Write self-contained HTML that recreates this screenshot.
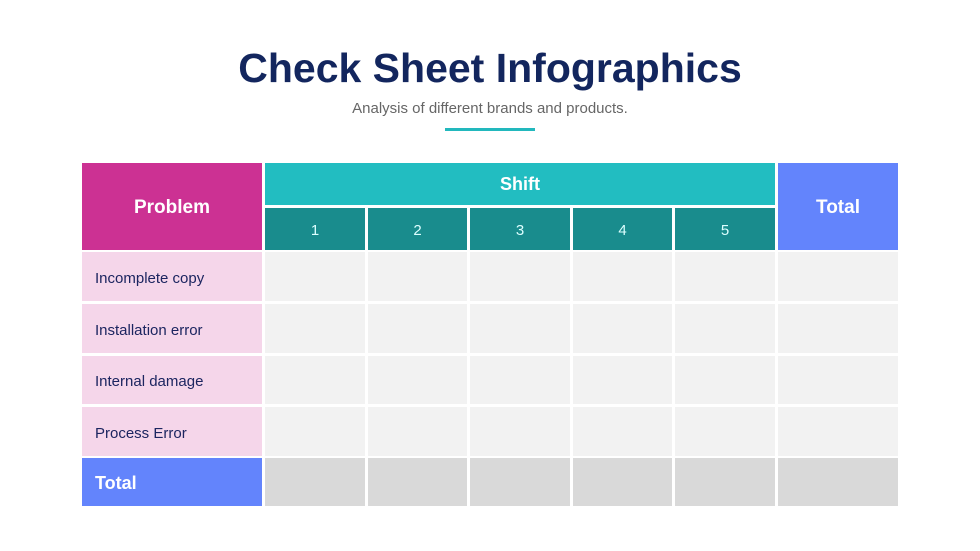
<!DOCTYPE html><html><head><style>
body{margin:0;width:980px;height:551px;background:#fff;position:relative;font-family:"Liberation Sans",sans-serif;overflow:hidden}
div.c{position:absolute;box-sizing:border-box;display:flex;align-items:center}
.ctr{justify-content:center}
</style></head><body>
<div style="position:absolute;top:45px;left:0;width:980px;text-align:center;font-size:41px;font-weight:bold;color:#13265e">Check Sheet Infographics</div>
<div style="position:absolute;top:100px;left:0;width:980px;text-align:center;font-size:15px;color:#666">Analysis of different brands and products.</div>
<div style="position:absolute;left:445px;top:128px;width:90px;height:3px;background:#22b8bd"></div>

<div class="c ctr" style="left:82px;top:163px;width:180px;height:87px;padding-top:3px;background:#cc3193;color:#fff;font-weight:bold;font-size:19px">Problem</div>
<div class="c ctr" style="left:265px;top:163px;width:510px;height:42px;background:#22bdc1;color:#fff;font-weight:bold;font-size:18px">Shift</div>
<div class="c ctr" style="left:778px;top:163px;width:120px;height:87px;padding-top:3px;background:#6384fc;color:#fff;font-weight:bold;font-size:19px">Total</div>
<div id="g"></div>
<script>
var xs=[[265,100],[368,99],[470,100],[573,99],[675,100]];
var rows=[[252,49],[304,49],[356,48],[407,49],[458,48]];
var names=["Incomplete copy","Installation error","Internal damage","Process Error"];
var h="";
xs.forEach(function(x,i){h+='<div class="c ctr" style="left:'+x[0]+'px;top:208px;width:'+x[1]+'px;height:42px;padding-top:2px;background:#198c8d;color:#dff;font-size:15px">'+(i+1)+'</div>';});
rows.forEach(function(r,j){
 var tot=j==4;
 h+='<div class="c" style="left:82px;top:'+r[0]+'px;width:180px;height:'+r[1]+'px;padding-left:13px;padding-top:3px;background:'+(tot?'#6384fc':'#f5d6ea')+';color:'+(tot?'#fff':'#1c2560')+';font-size:'+(tot?'18px;font-weight:bold':'15px')+'">'+(tot?'Total':names[j])+'</div>';
 var bg=tot?'#d9d9d9':'#f2f2f2';
 xs.concat([[778,120]]).forEach(function(x){h+='<div class="c" style="left:'+x[0]+'px;top:'+r[0]+'px;width:'+x[1]+'px;height:'+r[1]+'px;background:'+bg+'"></div>';});
});
document.getElementById('g').innerHTML=h;
</script>
</body></html>
